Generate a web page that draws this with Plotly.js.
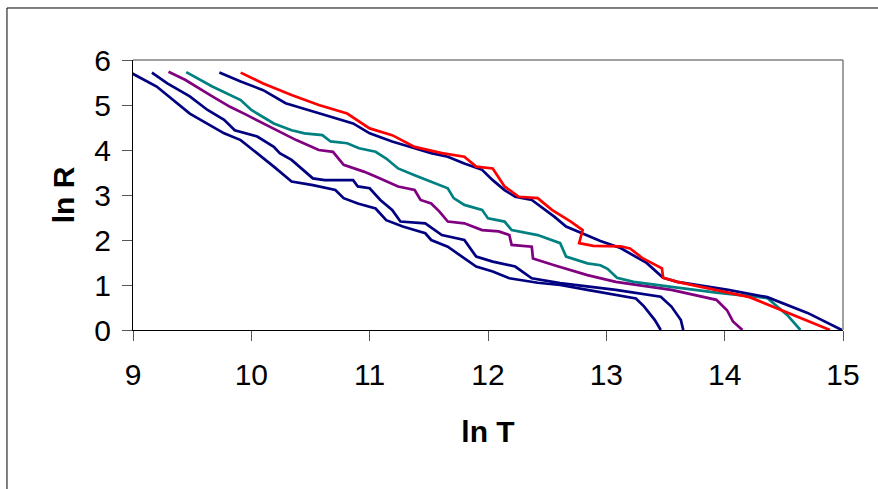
<!DOCTYPE html>
<html>
<head>
<meta charset="utf-8">
<script src="https://cdn.plot.ly/plotly-3.0.1.min.js"></script>
<style>html,body{margin:0;padding:0;background:#fff;}#chart{width:878px;height:489px;}</style>
</head>
<body>
<div id="chart"></div>
<script>
// Series A (leftmost navy)
const xA = [8.98,9.2,9.48,9.67,9.77,9.91,10.05,10.19,10.34,10.52,10.71,10.78,10.9,11.05,11.14,11.28,11.47,11.52,11.66,11.8,11.9,12.04,12.18,12.42,12.61,12.84,13.08,13.25,13.32,13.41,13.46];
const yA = [5.72,5.41,4.81,4.52,4.37,4.22,3.93,3.63,3.3,3.22,3.11,2.93,2.81,2.7,2.44,2.3,2.15,2.0,1.85,1.59,1.41,1.3,1.15,1.05,1.0,0.89,0.78,0.7,0.52,0.22,0];
// Series B (second navy)
const xB = [9.16,9.29,9.48,9.63,9.77,9.86,10.05,10.19,10.24,10.34,10.52,10.62,10.86,10.9,11.0,11.09,11.19,11.26,11.47,11.61,11.8,11.9,12.04,12.23,12.37,12.61,13.08,13.46,13.55,13.63,13.65];
const yB = [5.72,5.48,5.19,4.89,4.67,4.44,4.3,4.07,3.93,3.78,3.37,3.33,3.33,3.19,3.15,2.89,2.67,2.41,2.37,2.11,2.0,1.63,1.52,1.41,1.15,1.04,0.89,0.74,0.52,0.22,0];
// Series C (purple)
const xC = [9.3,9.44,9.67,9.82,9.96,10.1,10.24,10.38,10.57,10.69,10.78,10.95,11.05,11.24,11.38,11.43,11.52,11.59,11.66,11.8,11.95,12.09,12.18,12.2,12.37,12.38,12.56,12.84,13.08,13.55,13.93,14.02,14.07,14.15];
const yC = [5.74,5.56,5.19,4.96,4.78,4.59,4.41,4.22,4.0,3.96,3.67,3.52,3.41,3.19,3.11,2.89,2.81,2.63,2.41,2.37,2.22,2.19,2.11,1.89,1.85,1.59,1.44,1.22,1.07,0.89,0.67,0.44,0.19,0];
// Series D (teal)
const xD = [9.45,9.67,9.91,10.0,10.19,10.34,10.45,10.6,10.67,10.81,10.91,11.05,11.14,11.24,11.38,11.52,11.66,11.71,11.8,11.95,12.0,12.14,12.2,12.42,12.61,12.66,12.84,12.95,13.01,13.09,13.23,13.55,13.93,14.36,14.53,14.64];
const yD = [5.73,5.41,5.11,4.89,4.59,4.44,4.37,4.33,4.19,4.15,4.04,3.96,3.81,3.59,3.44,3.3,3.15,2.93,2.78,2.67,2.48,2.41,2.22,2.11,1.93,1.63,1.48,1.44,1.36,1.16,1.07,0.96,0.83,0.71,0.33,0];
// Series E (top navy)
const xE = [9.73,9.91,10.1,10.29,10.48,10.67,10.86,11.0,11.19,11.38,11.52,11.66,11.8,11.95,12.04,12.14,12.23,12.37,12.47,12.56,12.66,12.8,12.95,13.12,13.34,13.48,13.6,14.03,14.36,14.7,14.99];
const yE = [5.72,5.52,5.33,5.04,4.89,4.74,4.59,4.37,4.19,4.04,3.93,3.85,3.7,3.56,3.33,3.11,2.96,2.89,2.7,2.52,2.3,2.15,1.98,1.82,1.49,1.16,1.07,0.89,0.73,0.38,0];
// Series F (red)
const xF = [9.91,10.1,10.34,10.57,10.81,11.0,11.19,11.38,11.61,11.8,11.9,12.04,12.14,12.26,12.42,12.54,12.7,12.8,12.77,12.89,13.12,13.2,13.31,13.47,13.48,13.6,14.21,14.89];
const yF = [5.72,5.48,5.22,5.0,4.81,4.48,4.33,4.07,3.93,3.85,3.63,3.59,3.19,2.96,2.93,2.67,2.41,2.22,1.93,1.87,1.86,1.81,1.59,1.37,1.16,1.07,0.73,0];

const xTicks = [9,10,11,12,13,14,15];
const yTicks = [0,1,2,3,4,5,6];

const series = [
  {x:xA, y:yA, c:'#000080'},
  {x:xB, y:yB, c:'#000080'},
  {x:xC, y:yC, c:'#800080'},
  {x:xD, y:yD, c:'#008080'},
  {x:xE, y:yE, c:'#000080'},
  {x:xF, y:yF, c:'#FF0000'}
];
const traces = series.map(s => ({x:s.x, y:s.y, type:'scatter', mode:'lines', line:{color:s.c, width:2.7}, showlegend:false, hoverinfo:'skip'}));

const layout = {
  width:878, height:489,
  margin:{l:133, r:35, t:60, b:159},
  paper_bgcolor:'#fff', plot_bgcolor:'#fff',
  font:{family:'Liberation Sans, Arial, sans-serif', color:'#000'},
  xaxis:{range:[9,15], tickvals:xTicks, ticktext:xTicks.map(String), showgrid:false, zeroline:false,
    showline:true, linecolor:'#000', linewidth:1, ticks:'outside', ticklen:10, tickcolor:'#555', tickwidth:1,
    tickfont:{size:30}, ticklabelstandoff:8,
    title:{text:'ln T', font:{size:30, weight:'bold'}, standoff:30}, automargin:false},
  yaxis:{range:[0,6], tickvals:yTicks, ticktext:yTicks.map(String), showgrid:false, zeroline:false,
    showline:true, linecolor:'#000', linewidth:1, ticks:'outside', ticklen:10, tickcolor:'#555', tickwidth:1,
    tickfont:{size:30}, ticklabelstandoff:5,
    title:{text:'ln R', font:{size:30, weight:'bold'}, standoff:10}, automargin:false},
  shapes:[
    {type:'line', xref:'paper', yref:'paper', x0:0, x1:1, y0:1, y1:1, line:{color:'#808080', width:1.5}},
    {type:'line', xref:'paper', yref:'paper', x0:1, x1:1, y0:0, y1:1, line:{color:'#808080', width:1.5}},
    {type:'rect', xref:'paper', yref:'paper', x0:-0.1775, x1:1.3, y0:-0.7, y1:1.1926, line:{color:'#000', width:1}}
  ]
};
Plotly.newPlot('chart', traces, layout, {displayModeBar:false, staticPlot:true});
</script>
</body>
</html>
